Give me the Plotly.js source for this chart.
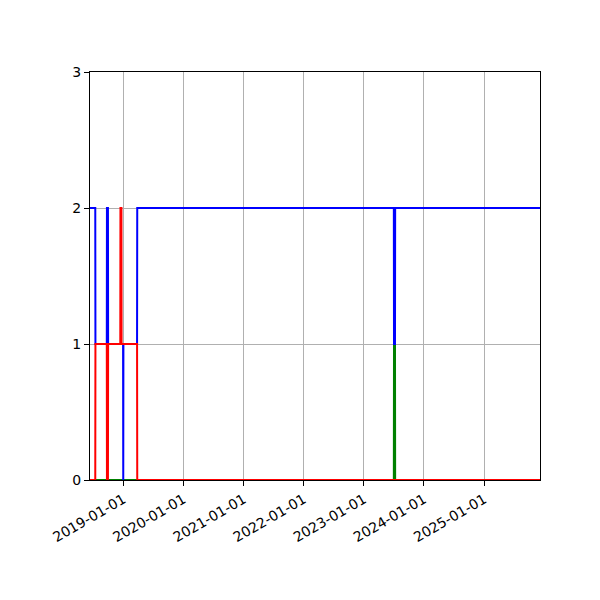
<!DOCTYPE html>
<html>
<head>
<meta charset="utf-8">
<script src="https://cdn.plot.ly/plotly-3.0.1.min.js"></script>
<style>
  html, body { margin: 0; padding: 0; background: #fff; }
  #chart { width: 600px; height: 600px; }
</style>
</head>
<body>
<div id="chart"></div>
<script>
// shared timeline, one value per date for every series
const dates = [
    '2018-06-12', '2018-07-14', '2018-07-15',
    '2018-09-22', '2018-09-23', '2018-09-29', '2018-09-30',
    '2018-12-13', '2018-12-14', '2018-12-20', '2018-12-21',
    '2018-12-30', '2018-12-31', '2019-01-01',
    '2019-03-25', '2019-03-26',
    '2023-07-02', '2023-07-03', '2023-07-09', '2023-07-10',
    '2025-12-06'
];
const blueVals = [
    2, 2, 1,
    1, 2, 2, 1,
    1, 1, 1, 1,
    1, 0, 1,
    1, 2,
    2, 1, 1, 2,
    2
];
const redVals = [
    0, 0, 1,
    1, 0, 0, 1,
    1, 2, 2, 1,
    1, 1, 1,
    1, 0,
    0, 0, 0, 0,
    0
];
const greenVals = [
    0, 0, 0,
    0, 0, 0, 0,
    0, 0, 0, 0,
    0, 0, 0,
    0, 0,
    0, 1, 1, 0,
    0
];
const xTicks = ['2019-01-01', '2020-01-01', '2021-01-01', '2022-01-01',
                '2023-01-01', '2024-01-01', '2025-01-01'];
const yTicks = [0, 1, 2, 3];

// green goes under, red on top (matches overlap in the picture)
const data = [
    {x: dates, y: greenVals, type: 'scatter', mode: 'lines', line: {color: '#008000', width: 2}},
    {x: dates, y: blueVals, type: 'scatter', mode: 'lines', line: {color: '#0000ff', width: 2}},
    {x: dates, y: redVals, type: 'scatter', mode: 'lines', line: {color: '#ff0000', width: 2}}
];

const axisStyle = {
    showline: true,
    mirror: true,
    linecolor: '#000',
    linewidth: 1,
    ticks: 'outside',
    ticklen: 5,
    tickcolor: '#000',
    showgrid: true,
    gridcolor: '#b0b0b0',
    gridwidth: 1,
    zeroline: false,
    tickfont: {family: 'DejaVu Sans', size: 14, color: '#000'}
};

const layout = {
    width: 600,
    height: 600,
    showlegend: false,
    paper_bgcolor: '#fff',
    plot_bgcolor: '#fff',
    margin: {l: 90, r: 60, t: 72, b: 120, pad: 0},
    xaxis: Object.assign({}, axisStyle, {
        type: 'date',
        range: [dates[0], dates[dates.length - 1]],
        tickvals: xTicks,
        ticktext: xTicks,
        tickangle: -30
    }),
    yaxis: Object.assign({}, axisStyle, {
        range: [0, 3],
        tickvals: yTicks,
        ticktext: yTicks.map(String)
    })
};

Plotly.newPlot('chart', data, layout, {staticPlot: true});
</script>
</body>
</html>
